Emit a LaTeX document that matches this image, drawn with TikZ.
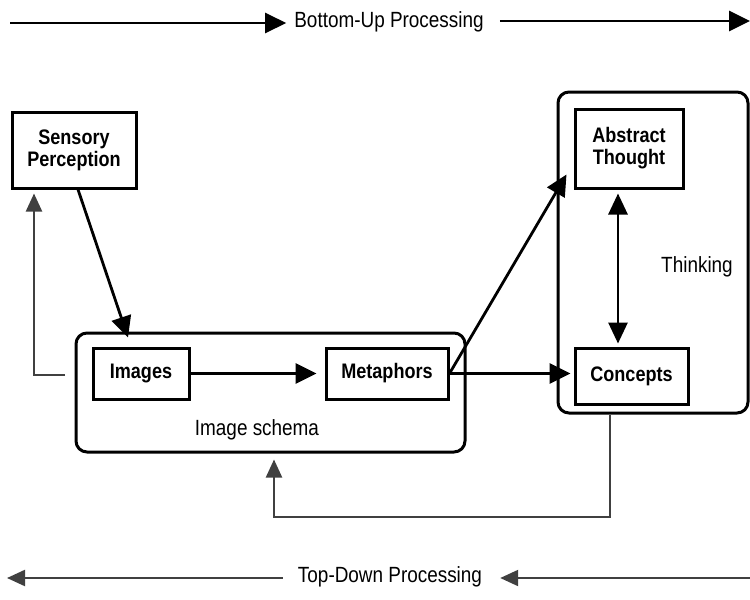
\documentclass[tikz,border=0pt]{standalone}
\usepackage{fontspec}
\setmainfont{Liberation Sans}[FakeStretch=0.86]
\usetikzlibrary{arrows.meta,calc}
\tikzset{
  box/.style={draw, line width=3pt, inner sep=0pt, align=center, font=\fontsize{21}{24}\selectfont\bfseries},
  group/.style={draw, line width=3pt, rounded corners=11pt, inner sep=0pt},
  lbl/.style={font=\fontsize{22}{24}\selectfont, inner sep=0pt},
  arr/.style={line width=2.8pt, -{Triangle[length=21pt,width=20pt]}},
  dbl/.style={line width=2.8pt, {Triangle[length=21pt,width=19pt]}-{Triangle[length=21pt,width=19pt]}},
  tdline/.style={line width=2.2pt, black!75, -{Triangle[length=18pt,width=16pt]}},
}
\begin{document}
\begin{tikzpicture}[x=1pt,y=-1pt]
\useasboundingbox (0,0) rectangle (750,600);

% top and bottom labels
\node[lbl] (bu) at (389,22) {Bottom-Up Processing};
\node[lbl] (td) at (390,577) {Top-Down Processing};
\coordinate (bl) at (10,23);
\coordinate (br) at (750,21);
\coordinate (tdl) at (7,578);
\coordinate (tdr) at (750,578);
\draw[arr] (bl) -- ([xshift=-8pt]bu.west |- bl);
\draw[arr] ([xshift=16pt]bu.east |- br) -- (br);
\draw[tdline] ([xshift=-15pt]td.west |- tdl) -- (tdl);
\draw[tdline] (tdr) -- ([xshift=18pt]td.east |- tdr);

% groups
\node[group, minimum width=389pt, minimum height=119pt] (schema) at (270.5,392.5) {};
\node[group, minimum width=190pt, minimum height=321pt] (thinking) at (653,252.5) {};
\node[lbl] (schemalbl) at (257,430) {Image schema};
\node[lbl] (thinklbl) at (697,267) {Thinking};

% boxes
\node[box, minimum width=124pt, minimum height=76pt] (sens) at (74,150) {Sensory\\[-2pt]Perception};
\node[box, minimum width=96pt, minimum height=51pt] (images) at (141,373.5) {Images};
\node[box, minimum width=122pt, minimum height=51pt] (metaphors) at (387,373.5) {Metaphors};
\node[box, minimum width=108pt, minimum height=79pt] (abstract) at (629,148.5) {Abstract\\[-2pt]Thought};
\node[box, minimum width=113pt, minimum height=56pt] (concepts) at (631.5,376) {Concepts};

% bottom-up connectors
\draw[arr] ([xshift=4pt]sens.south) -- ([xshift=-142.5pt,yshift=-6pt]schema.north);
\draw[arr, shorten >=8pt] (images.east) -- (metaphors.west |- images.east);
\draw[arr] (metaphors.east) -- ($(abstract.south west)+(-7,-15)$);
\draw[arr, shorten >=3pt] (metaphors.east) -- (metaphors.east -| concepts.west);
\coordinate (ac) at (618,0);
\draw[dbl, shorten <=4pt, shorten >=3pt] (abstract.south -| ac) -- (concepts.north -| ac);

% top-down feedback
\coordinate (f1) at (610,517);
\coordinate (f2) at (274,517);
\draw[tdline, shorten >=6pt] (thinking.south -| f1) -- (f1) -- (f2) -- (schema.south -| f2);
\coordinate (g1) at (65,375);
\coordinate (g2) at (34,375);
\draw[tdline, shorten >=4pt] (g1) -- (g2) -- (sens.south -| g2);
\end{tikzpicture}
\end{document}
